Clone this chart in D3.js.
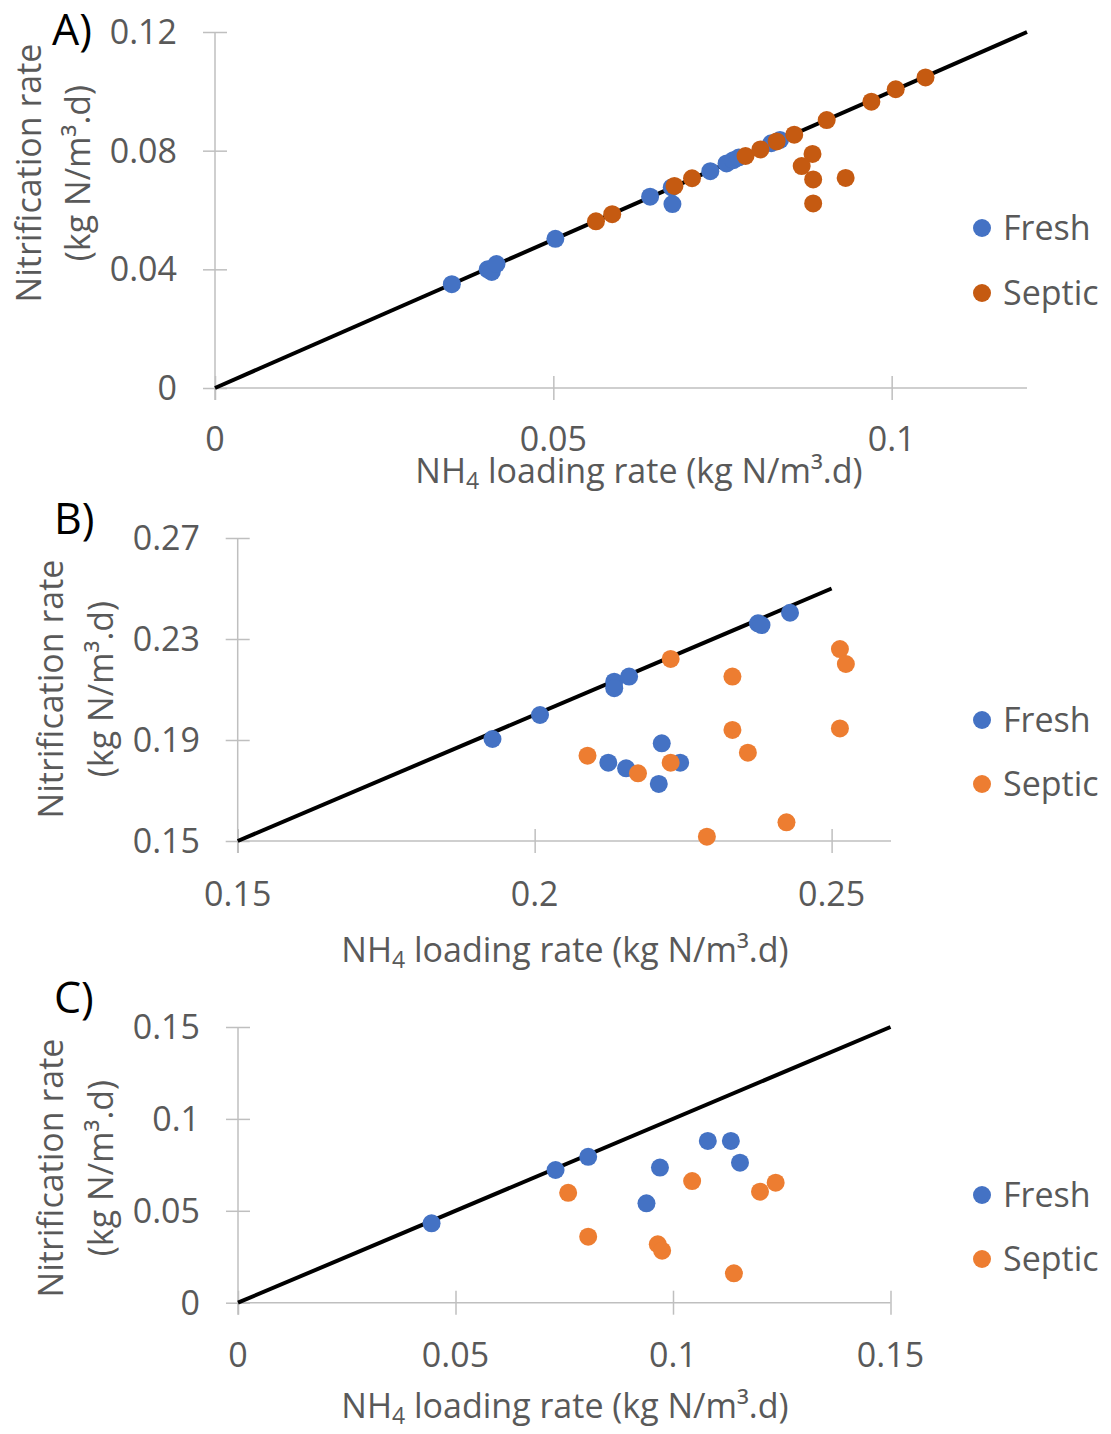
<!DOCTYPE html>
<html>
<head>
<meta charset="utf-8">
<script src="https://cdn.jsdelivr.net/npm/d3@7"></script>
<style>
  html, body { margin: 0; padding: 0; background: #fff; }
  svg { display: block; }
  text { font-family: "Open Sans", Lato, sans-serif; }
</style>
</head>
<body>
<svg id="chart" width="1111" height="1434"></svg>
<script>
// ---------- DATA ----------
const seriesNames = ["Fresh", "Septic"];

// Panel A
const aFresh = [
  [0.0350, 0.0350], [0.0403, 0.0400], [0.0409, 0.0391], [0.0416, 0.0418],
  [0.0503, 0.0503], [0.0643, 0.0645], [0.0675, 0.0676], [0.0676, 0.0620],
  [0.0732, 0.0731], [0.0756, 0.0757], [0.0766, 0.0768], [0.0774, 0.0777],
  [0.0822, 0.0825], [0.0835, 0.0836]
];
const aSeptic = [
  [0.0563, 0.0562], [0.0587, 0.0586], [0.0679, 0.0681], [0.0705, 0.0707],
  [0.0784, 0.0782], [0.0806, 0.0804], [0.0830, 0.0831], [0.0856, 0.0854],
  [0.0904, 0.0903], [0.0970, 0.0965], [0.1006, 0.1007], [0.1050, 0.1047],
  [0.0883, 0.0789], [0.0867, 0.0748], [0.0884, 0.0703], [0.0884, 0.0622],
  [0.0932, 0.0708]
];
const aXTicks = [0, 0.05, 0.1];
const aYTicks = [0, 0.04, 0.08, 0.12];
const aXDomain = [0, 0.12];
const aYDomain = [0, 0.12];
const aLine = [[0, 0], [0.12, 0.12]];

// Panel B
const bFresh = [
  [0.1929, 0.1904], [0.2009, 0.1999], [0.2134, 0.2131], [0.2134, 0.2105],
  [0.2159, 0.2151], [0.2214, 0.1887], [0.2124, 0.1810], [0.2154, 0.1788],
  [0.2245, 0.1810], [0.2209, 0.1726], [0.2376, 0.2362], [0.2382, 0.2355],
  [0.2430, 0.2404]
];
const bSeptic = [
  [0.2089, 0.1838], [0.2174, 0.1768], [0.2229, 0.1810], [0.2229, 0.2221],
  [0.2333, 0.2151], [0.2333, 0.1940], [0.2359, 0.1850], [0.2290, 0.1517],
  [0.2424, 0.1574], [0.2514, 0.2260], [0.2524, 0.2201], [0.2514, 0.1946]
];
const bXTicks = [0.15, 0.2, 0.25];
const bYTicks = [0.15, 0.19, 0.23, 0.27];
const bXDomain = [0.15, 0.26];
const bYDomain = [0.15, 0.27];
const bLine = [[0.15, 0.15], [0.25, 0.25]];

// Panel C
const cFresh = [
  [0.0445, 0.0432], [0.0730, 0.0722], [0.0805, 0.0794], [0.0970, 0.0735],
  [0.0939, 0.0541], [0.1080, 0.0880], [0.1133, 0.0880], [0.1154, 0.0762]
];
const cSeptic = [
  [0.0759, 0.0598], [0.0805, 0.0359], [0.0965, 0.0318], [0.0975, 0.0283],
  [0.1044, 0.0662], [0.1200, 0.0604], [0.1236, 0.0653], [0.1140, 0.0160]
];
const cXTicks = [0, 0.05, 0.1, 0.15];
const cYTicks = [0, 0.05, 0.1, 0.15];
const cXDomain = [0, 0.15];
const cYDomain = [0, 0.15];
const cLine = [[0, 0], [0.15, 0.15]];

const panelLabels = ["A)", "B)", "C)"];

// ---------- STYLE / LAYOUT ----------
const BLUE = "#4472C4";
const GRAY = "#595959";
const AXIS = "#bfbfbf";

const panels = [
  {
    label: panelLabels[0], fresh: aFresh, septic: aSeptic, septicColor: "#C55A11",
    xDomain: aXDomain, yDomain: aYDomain, xTicks: aXTicks, yTicks: aYTicks, line: aLine,
    xRange: [215, 1027], yRange: [388, 32],
    xTickBase: 451, xTitleBase: 483, xTitleX: 639, yTickRight: 177,
    yTitle1X: 41, yTitle2X: 90, yTitleY: 173,
    labelX: 52, labelBase: 45, legendY: [228, 293]
  },
  {
    label: panelLabels[1], fresh: bFresh, septic: bSeptic, septicColor: "#ED7D31",
    xDomain: bXDomain, yDomain: bYDomain, xTicks: bXTicks, yTicks: bYTicks, line: bLine,
    xRange: [237.7, 891], yRange: [841, 538],
    xTickBase: 906, xTitleBase: 962, xTitleX: 565, yTickRight: 200,
    yTitle1X: 63, yTitle2X: 113, yTitleY: 689,
    labelX: 54, labelBase: 534, legendY: [720, 784]
  },
  {
    label: panelLabels[2], fresh: cFresh, septic: cSeptic, septicColor: "#ED7D31",
    xDomain: cXDomain, yDomain: cYDomain, xTicks: cXTicks, yTicks: cYTicks, line: cLine,
    xRange: [238, 890.5], yRange: [1302.7, 1027],
    xTickBase: 1367, xTitleBase: 1418, xTitleX: 565, yTickRight: 200,
    yTitle1X: 63, yTitle2X: 113, yTitleY: 1168,
    labelX: 54, labelBase: 1013, legendY: [1195, 1259]
  }
];

const svg = d3.select("#chart");
const FS = 34;
const TICK = 12;

panels.forEach(p => {
  const g = svg.append("g");
  const x = d3.scaleLinear().domain(p.xDomain).range(p.xRange);
  const y = d3.scaleLinear().domain(p.yDomain).range(p.yRange);
  const x0 = x(p.xDomain[0]);
  const y0 = y(p.yDomain[0]);

  // X axis (cross ticks)
  const xAxis = d3.axisBottom(x).tickValues(p.xTicks).tickSize(TICK).tickFormat("");
  const gx = g.append("g").attr("transform", `translate(0,${y0})`).call(xAxis);
  gx.select(".domain").remove();
  gx.selectAll(".tick line").attr("y1", -TICK).attr("y2", TICK).attr("stroke", AXIS).attr("stroke-width", 1.5);
  g.append("line").attr("x1", x0).attr("x2", p.xRange[1]).attr("y1", y0).attr("y2", y0)
    .attr("stroke", AXIS).attr("stroke-width", 1.5);

  // Y axis (cross ticks)
  const yAxis = d3.axisLeft(y).tickValues(p.yTicks).tickSize(TICK).tickFormat("");
  const gy = g.append("g").attr("transform", `translate(${x0},0)`).call(yAxis);
  gy.select(".domain").remove();
  gy.selectAll(".tick line").attr("x1", -TICK).attr("x2", TICK).attr("stroke", AXIS).attr("stroke-width", 1.5);
  g.append("line").attr("x1", x0).attr("x2", x0).attr("y1", p.yRange[1]).attr("y2", y0 + TICK)
    .attr("stroke", AXIS).attr("stroke-width", 1.5);

  // Tick labels
  g.selectAll(".xt").data(p.xTicks).enter().append("text")
    .attr("x", d => x(d)).attr("y", p.xTickBase)
    .attr("text-anchor", "middle").attr("font-size", FS).attr("fill", GRAY)
    .text(d => String(d));
  g.selectAll(".yt").data(p.yTicks).enter().append("text")
    .attr("x", p.yTickRight).attr("y", d => y(d) + 12)
    .attr("text-anchor", "end").attr("font-size", FS).attr("fill", GRAY)
    .text(d => String(d));

  // 1:1 line
  g.append("path").datum(p.line)
    .attr("d", d3.line().x(d => x(d[0])).y(d => y(d[1])))
    .attr("stroke", "#000").attr("stroke-width", 4).attr("fill", "none");

  // Points
  const R = 9;
  g.selectAll(".f").data(p.fresh).enter().append("circle")
    .attr("cx", d => x(d[0])).attr("cy", d => y(d[1])).attr("r", R).attr("fill", BLUE);
  g.selectAll(".s").data(p.septic).enter().append("circle")
    .attr("cx", d => x(d[0])).attr("cy", d => y(d[1])).attr("r", R).attr("fill", p.septicColor);

  // X title
  const xt = g.append("text").attr("x", p.xTitleX).attr("y", p.xTitleBase)
    .attr("text-anchor", "middle").attr("font-size", FS).attr("fill", GRAY);
  xt.append("tspan").text("NH");
  xt.append("tspan").attr("font-size", 23).attr("dy", 6).text("4");
  xt.append("tspan").attr("dy", -6).text(" loading rate (kg N/m³.d)");

  // Y title
  g.append("text").attr("transform", `translate(${p.yTitle1X},${p.yTitleY}) rotate(-90)`)
    .attr("text-anchor", "middle").attr("font-size", FS).attr("fill", GRAY)
    .text("Nitrification rate");
  g.append("text").attr("transform", `translate(${p.yTitle2X},${p.yTitleY}) rotate(-90)`)
    .attr("text-anchor", "middle").attr("font-size", FS).attr("fill", GRAY)
    .text("(kg N/m³.d)");

  // Panel label
  g.append("text").attr("x", p.labelX).attr("y", p.labelBase)
    .attr("font-size", 43).attr("fill", "#000").text(p.label);

  // Legend
  const colors = [BLUE, p.septicColor];
  seriesNames.forEach((name, i) => {
    g.append("circle").attr("cx", 982).attr("cy", p.legendY[i]).attr("r", 9).attr("fill", colors[i]);
    g.append("text").attr("x", 1003).attr("y", p.legendY[i] + 12)
      .attr("font-size", FS).attr("fill", GRAY).text(name);
  });
});
</script>
</body>
</html>
